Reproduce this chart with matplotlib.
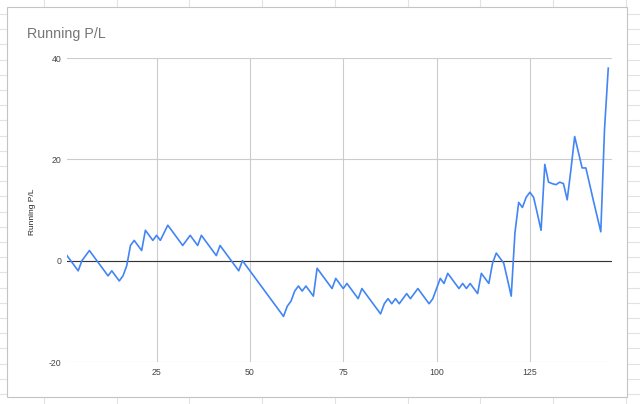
import numpy as np
import matplotlib
matplotlib.use("Agg")
import matplotlib.pyplot as plt
from matplotlib.lines import Line2D
from matplotlib.patches import Rectangle

plt.rcParams['font.family'] = ['Liberation Sans', 'DejaVu Sans']
plt.rcParams['axes.unicode_minus'] = False

# running P/L per trade
trade_no = list(range(1, 147))
running_pl = [
	1, 0, -1, -2, 0, 1, 2, 1, 0, -1,
	-2, -3, -2, -3, -4, -3, -1, 3, 4, 3,
	2, 6, 5, 4, 5, 4, 5.5, 7, 6, 5,
	4, 3, 4, 5, 4, 3, 5, 4, 3, 2,
	1, 3, 2, 1, 0, -1, -2, 0, -1, -2,
	-3, -4, -5, -6, -7, -8, -9, -10, -11, -9,
	-8, -6, -5, -6, -5, -6, -7, -1.5, -2.5, -3.5,
	-4.5, -5.5, -3.5, -4.5, -5.5, -4.5, -5.5, -6.5, -7.5, -5.5,
	-6.5, -7.5, -8.5, -9.5, -10.5, -8.5, -7.5, -8.5, -7.5, -8.5,
	-7.5, -6.5, -7.5, -6.5, -5.5, -6.5, -7.5, -8.5, -7.5, -5.5,
	-3.5, -4.5, -2.5, -3.5, -4.5, -5.5, -4.5, -5.5, -4.5, -5.5,
	-6.5, -2.5, -3.5, -4.5, -0.5, 1.5, 0.5, -0.5, -3.7, -7,
	5.5, 11.5, 10.5, 12.5, 13.5, 12.5, 9.3, 6, 19, 15.5,
	15.2, 15, 15.5, 15.2, 12, 18, 24.5, 21.4, 18.3, 18.3,
	15.1, 11.9, 8.8, 5.7, 26, 38,
]
x_ticks = [25, 50, 75, 100, 125]
y_ticks = [-20, 0, 20, 40]

W, H = 640, 404
BLUE = '#4285F4'
GRID = '#cccccc'
SHEET = '#e2e2e2'

fig = plt.figure(figsize=(W / 100, H / 100), dpi=100)

# spreadsheet cell lines behind the chart
for px in np.arange(44, W, 72.7):
	fig.add_artist(Line2D([px / W, px / W], [0, 1], transform=fig.transFigure, color=SHEET, lw=0.8, zorder=-3))
for py in np.arange(14, H, 15.2):
	fig.add_artist(Line2D([0, 1], [1 - py / H, 1 - py / H], transform=fig.transFigure, color=SHEET, lw=0.8, zorder=-3))

# chart card
fig.add_artist(Rectangle((7 / W, 1 - 397 / H), 620 / W, 390 / H, transform=fig.transFigure,
	facecolor='white', edgecolor='#c4c4c4', lw=0.8, zorder=-2))

ax = fig.add_axes([67 / W, 1 - 362 / H, 545 / W, 304 / H])
ax.set_facecolor('none')
ax.plot(trade_no, running_pl, color=BLUE, lw=1.2, zorder=3)
ax.axhline(0, color='#333333', lw=0.8, zorder=2)

ax.set_xlim(1, 147)
ax.set_ylim(-20, 40)
ax.set_xticks(x_ticks)
ax.set_yticks(y_ticks)
ax.grid(True, color=GRID, lw=0.8)
ax.set_axisbelow(True)
for s in ax.spines.values():
	s.set_visible(False)
ax.tick_params(length=0, labelsize=6.3, labelcolor='#444444')
ax.tick_params(axis='x', pad=4)
ax.tick_params(axis='y', pad=4)

fig.text(27 / W, 1 - 34 / H, "Running P/L", fontsize=10.3, color='#757575', va='center', ha='left')
fig.text(33 / W, 1 - 212 / H, "Running P/L", fontsize=6, color='#222222', rotation=90, va='center', ha='center')

plt.savefig("out.png", dpi=100)
plt.close()
